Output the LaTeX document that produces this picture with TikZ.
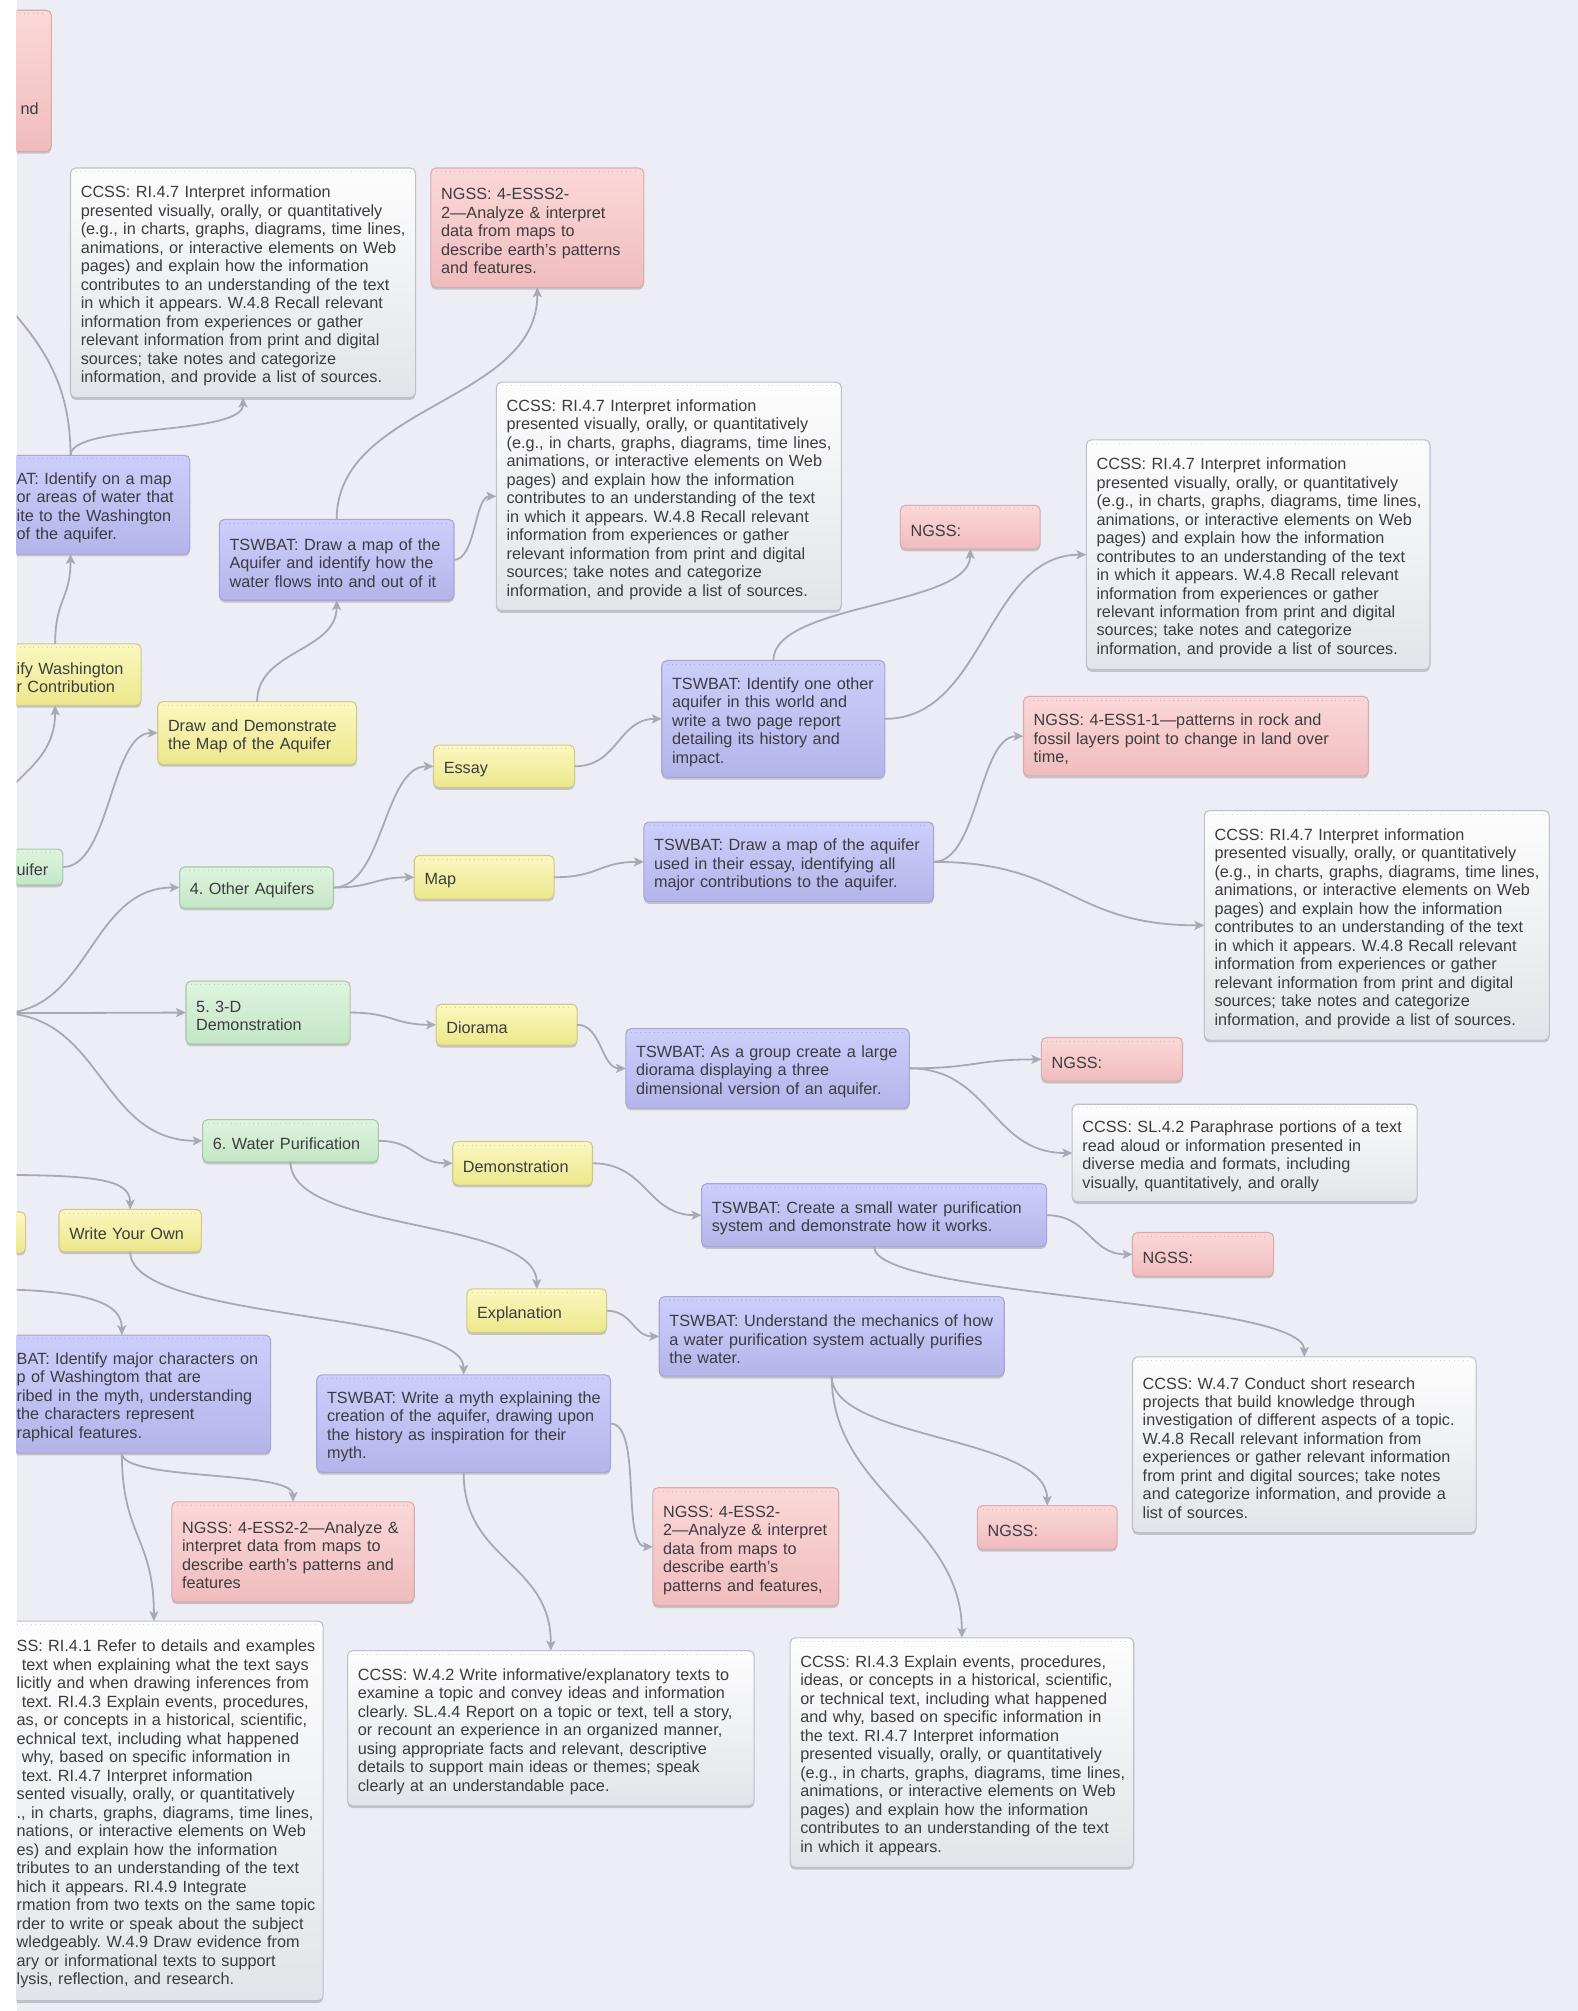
\documentclass[tikz,border=0pt]{standalone}
\usepackage{fontspec}
\setmainfont{Liberation Sans}
\usetikzlibrary{arrows.meta,shadows}

\definecolor{mapbg}{RGB}{237,237,245}
\definecolor{wire}{RGB}{166,170,182}
\definecolor{ink}{RGB}{60,60,64}
\definecolor{ccsstop}{RGB}{253,253,253}
\definecolor{ccssbot}{RGB}{226,228,233}
\definecolor{ccssline}{RGB}{188,192,202}
\definecolor{ngsstop}{RGB}{251,216,216}
\definecolor{ngssbot}{RGB}{240,188,190}
\definecolor{ngssline}{RGB}{214,172,176}
\definecolor{goaltop}{RGB}{206,206,252}
\definecolor{goalbot}{RGB}{180,180,234}
\definecolor{goalline}{RGB}{166,166,214}
\definecolor{tasktop}{RGB}{250,248,192}
\definecolor{taskbot}{RGB}{236,231,140}
\definecolor{taskline}{RGB}{206,202,140}
\definecolor{topictop}{RGB}{222,244,222}
\definecolor{topicbot}{RGB}{196,230,198}
\definecolor{topicline}{RGB}{166,198,170}

\newcommand{\riseven}{CCSS: RI.4.7 Interpret information\\
presented visually, orally, or quantitatively\\
(e.g., in charts, graphs, diagrams, time lines,\\
animations, or interactive elements on Web\\
pages) and explain how the information\\
contributes to an understanding of the text\\
in which it appears. W.4.8 Recall relevant\\
information from experiences or gather\\
relevant information from print and digital\\
sources; take notes and categorize\\
information, and provide a list of sources.}

\begin{document}
\begin{tikzpicture}[x=0.025cm,y=-0.025cm,
block/.style={draw=#1,rounded corners=2.8pt,line width=0.6pt,inner xsep=0.2cm,inner ysep=0pt,outer sep=0pt,
  align=left,text=ink,font=\fontsize{9pt}{10.25pt}\selectfont\frenchspacing,
  drop shadow={shadow xshift=0pt,shadow yshift=-1.3pt,opacity=0.18,fill=black},
  path picture={\draw[black,opacity=0.15,line width=0.5pt,dotted] ([xshift=3pt,yshift=-2pt]path picture bounding box.north west) -- ([xshift=-3pt,yshift=-2pt]path picture bounding box.north east);},
  execute at begin node={\rightskip=-2cm plus 1fil\relax\rule{0pt}{10pt}}},
dims/.style 2 args={anchor=north west,minimum width=#1*0.025cm,minimum height=#2*0.025cm,text width=#1*0.025cm-0.4cm},
clipleft/.style={execute at begin node={\leftskip=#1\relax}},
ccssblock/.style={block=ccssline,top color=ccsstop,bottom color=ccssbot},
ngssblock/.style={block=ngssline,top color=ngsstop,bottom color=ngssbot},
goalblock/.style={block=goalline,top color=goaltop,bottom color=goalbot},
taskblock/.style={block=taskline,top color=tasktop,bottom color=taskbot},
topicblock/.style={block=topicline,top color=topictop,bottom color=topicbot},
link/.style={draw=wire,line width=1pt,-{Stealth[length=5.5pt,width=5pt,inset=1.3pt]}}]
\useasboundingbox (0,0) rectangle (1230,1568);
\fill[white] (0,0) rectangle (1230,1568);
\fill[mapbg] (13,0) rectangle (1230,1568);
\begin{scope}
\clip (13,0) rectangle (1230,1568);
\coordinate (root) at (0,790);
\coordinate (mythA) at (-20,916);
\coordinate (mythB) at (-20,1005);

\draw (-130,8) node[ngssblock,dims={170}{110},clipleft=3.45cm,text height=1.33cm,text depth=0pt] (ng0) {nd};
\draw (55,131) node[ccssblock,dims={269}{179}] (cc1) {\riseven};
\draw (336,131) node[ngssblock,dims={166}{93}] (ng1) {NGSS: 4-ESSS2-\\2—Analyze \& interpret\\data from maps to\\describe earth's patterns\\and features.};
\draw (387,298) node[ccssblock,dims={269}{178}] (cc2) {\riseven};
\draw (-38,355) node[goalblock,dims={186}{77},clipleft=1.075cm] (ts1) {AT: Identify on a map\\or areas of water that\\ite to the Washington\\of the aquifer.};
\draw (171,405) node[goalblock,dims={183}{63}] (ts2) {TSWBAT: Draw a map of the\\Aquifer and identify how the\\water flows into and out of it};
\draw (702,394) node[ngssblock,dims={109}{34}] (ng2) {NGSS:};
\draw (847,343) node[ccssblock,dims={268}{179}] (cc3) {\riseven};
\draw (-24,502) node[taskblock,dims={134}{48},clipleft=0.725cm] (tk1) {ify Washington\\r Contribution};
\draw (123,547) node[taskblock,dims={155}{49}] (tk2) {Draw and Demonstrate\\the Map of the Aquifer};
\draw (516,515) node[goalblock,dims={174}{91}] (ts3) {TSWBAT: Identify one other\\aquifer in this world and\\write a two page report\\detailing its history and\\impact.};
\draw (798,543) node[ngssblock,dims={269}{62}] (ng3) {NGSS: 4-ESS1-1—patterns in rock and\\fossil layers point to change in land over\\time,};
\draw (338,581) node[taskblock,dims={110}{33}] (essay) {Essay};
\draw (-71,662) node[topicblock,dims={120}{28},clipleft=1.9cm] (tp3) {uifer};
\draw (140,676) node[topicblock,dims={120}{32}] (tp4) {4. Other Aquifers};
\draw (323,667) node[taskblock,dims={109}{34}] (map) {Map};
\draw (502,641) node[goalblock,dims={226}{62}] (ts4) {TSWBAT: Draw a map of the aquifer\\used in their essay, identifying all\\major contributions to the aquifer.};
\draw (939,632) node[ccssblock,dims={269}{179}] (cc4) {\riseven};
\draw (145,765) node[topicblock,dims={128}{49}] (tp5) {5. 3-D\\Demonstration};
\draw (340,783) node[taskblock,dims={110}{32}] (diorama) {Diorama};
\draw (488,802) node[goalblock,dims={221}{62}] (ts5) {TSWBAT: As a group create a large\\diorama displaying a three\\dimensional version of an aquifer.};
\draw (812,809) node[ngssblock,dims={110}{34}] (ng5) {NGSS:};
\draw (836,861) node[ccssblock,dims={269}{76}] (cc5) {CCSS: SL.4.2 Paraphrase portions of a text\\read aloud or information presented in\\diverse media and formats, including\\visually, quantitatively, and orally};
\draw (158,873) node[topicblock,dims={137}{33}] (tp6) {6. Water Purification};
\draw (353,890) node[taskblock,dims={109}{34}] (demo) {Demonstration};
\draw (547,923) node[goalblock,dims={269}{49}] (ts6) {TSWBAT: Create a small water purification\\system and demonstrate how it works.};
\draw (883,961) node[ngssblock,dims={110}{34}] (ng6) {NGSS:};
\draw (-90,945) node[taskblock,dims={110}{32}] (tk7) {};
\draw (46,943) node[taskblock,dims={111}{33}] (own) {Write Your Own};
\draw (364,1005) node[taskblock,dims={109}{34}] (explain) {Explanation};
\draw (514,1011) node[goalblock,dims={269}{62}] (ts9) {TSWBAT: Understand the mechanics of how\\a water purification system actually purifies\\the water.};
\draw (-21,1041) node[goalblock,dims={232}{92},clipleft=0.65cm] (ts7) {BAT: Identify major characters on\\p of Washingtom that are\\ribed in the myth, understanding\\the characters represent\\raphical features.};
\draw (247,1072) node[goalblock,dims={229}{76}] (ts8) {TSWBAT: Write a myth explaining the\\creation of the aquifer, drawing upon\\the history as inspiration for their\\myth.};
\draw (883,1058) node[ccssblock,dims={268}{137}] (cc9) {CCSS: W.4.7 Conduct short research\\projects that build knowledge through\\investigation of different aspects of a topic.\\W.4.8 Recall relevant information from\\experiences or gather relevant information\\from print and digital sources; take notes\\and categorize information, and provide a\\list of sources.};
\draw (762,1174) node[ngssblock,dims={109}{34}] (ng9) {NGSS:};
\draw (134,1171) node[ngssblock,dims={189}{78}] (ng7) {NGSS: 4-ESS2-2—Analyze \&\\interpret data from maps to\\describe earth's patterns and\\features};
\draw (509,1160) node[ngssblock,dims={145}{92}] (ng8) {NGSS: 4-ESS2-\\2—Analyze \& interpret\\data from maps to\\describe earth's\\patterns and features,};
\draw (-12,1264) node[ccssblock,dims={264}{296},clipleft=0.425cm] (cc7) {SS: RI.4.1 Refer to details and examples\\
\hspace*{0.1cm}text when explaining what the text says\\
licitly and when drawing inferences from\\
\hspace*{0.1cm}text. RI.4.3 Explain events, procedures,\\
as, or concepts in a historical, scientific,\\
echnical text, including what happened\\
\hspace*{0.1cm}why, based on specific information in\\
\hspace*{0.1cm}text. RI.4.7 Interpret information\\
sented visually, orally, or quantitatively\\
., in charts, graphs, diagrams, time lines,\\
nations, or interactive elements on Web\\
es) and explain how the information\\
tributes to an understanding of the text\\
hich it appears. RI.4.9 Integrate\\
rmation from two texts on the same topic\\
rder to write or speak about the subject\\
wledgeably. W.4.9 Draw evidence from\\
ary or informational texts to support\\
lysis, reflection, and research.};
\draw (271,1287) node[ccssblock,dims={317}{121}] (cc8) {CCSS: W.4.2 Write informative/explanatory texts to\\examine a topic and convey ideas and information\\clearly. SL.4.4 Report on a topic or text, tell a story,\\or recount an experience in an organized manner,\\using appropriate facts and relevant, descriptive\\details to support main ideas or themes; speak\\clearly at an understandable pace.};
\draw (616,1277) node[ccssblock,dims={268}{179}] (cc10) {CCSS: RI.4.3 Explain events, procedures,\\ideas, or concepts in a historical, scientific,\\or technical text, including what happened\\and why, based on specific information in\\the text. RI.4.7 Interpret information\\presented visually, orally, or quantitatively\\(e.g., in charts, graphs, diagrams, time lines,\\animations, or interactive elements on Web\\pages) and explain how the information\\contributes to an understanding of the text\\in which it appears.};

\draw[link] (ts1.north) .. controls +(0,-118) and +(0,118) .. (ng0.south);
\draw[link] (ts1.north) .. controls +(0,-25) and +(0,30) .. (cc1.south);
\draw[link] (tk1.north) .. controls +(0,-35) and +(0,35) .. (ts1.south);
\draw[link] (tp3.north) .. controls +(0,-56) and +(0,56) .. (tk1.south);
\draw[link] (tp3.east) .. controls +(37,0) and +(-37,0) .. (tk2.west);
\draw[link] (tk2.north) .. controls +(0,-40) and +(0,40) .. (ts2.south);
\draw[link] (ts2.north) .. controls +(0,-90) and +(0,90) .. (ng1.south);
\draw[link] (ts2.east) .. controls +(17,0) and +(-17,0) .. (cc2.west);
\draw[link] (root) .. controls +(70,0) and +(-70,0) .. (tp4.west);
\draw[link] (root) -- (tp5.west);
\draw[link] (root) .. controls +(80,0) and +(-80,0) .. (tp6.west);
\draw[link] (tp4.east) .. controls +(39,0) and +(-39,0) .. (essay.west);
\draw[link] (tp4.east) .. controls +(31,0) and +(-31,0) .. (map.west);
\draw[link] (essay.east) .. controls +(34,0) and +(-34,0) .. (ts3.west);
\draw[link] (ts3.north) .. controls +(0,-45) and +(0,45) .. (ng2.south);
\draw[link] (ts3.east) .. controls +(78,0) and +(-78,0) .. (cc3.west);
\draw[link] (map.east) .. controls +(35,0) and +(-35,0) .. (ts4.west);
\draw[link] (ts4.east) .. controls +(35,0) and +(-35,0) .. (ng3.west);
\draw[link] (ts4.east) .. controls +(105,0) and +(-105,0) .. (cc4.west);
\draw[link] (tp5.east) .. controls +(33,0) and +(-33,0) .. (diorama.west);
\draw[link] (diorama.east) .. controls +(19,0) and +(-19,0) .. (ts5.west);
\draw[link] (ts5.east) .. controls +(51,0) and +(-51,0) .. (ng5.west);
\draw[link] (ts5.east) .. controls +(63,0) and +(-63,0) .. (cc5.west);
\draw[link] (tp6.east) .. controls +(29,0) and +(-29,0) .. (demo.west);
\draw[link] (demo.east) .. controls +(42,0) and +(-42,0) .. (ts6.west);
\draw[link] (ts6.east) .. controls +(33,0) and +(-33,0) .. (ng6.west);
\draw[link] (ts6.south) .. controls +(0,40) and +(0,-45) .. (cc9.north);
\draw[link] (tp6.south) .. controls +(0,55) and +(0,-55) .. (explain.north);
\draw[link] (explain.east) .. controls +(20,0) and +(-20,0) .. (ts9.west);
\draw[link] (ts9.south) .. controls +(0,50) and +(0,-55) .. (ng9.north);
\draw[link] (ts9.south) .. controls +(0,90) and +(0,-90) .. (cc10.north);
\draw[link] (mythA) .. controls +(90,0) and +(0,-25) .. (own.north);
\draw[link] (own.south) .. controls +(0,55) and +(0,-50) .. (ts8.north);
\draw[link] (mythB) .. controls +(90,0) and +(0,-25) .. (ts7.north);
\draw[link] (ts7.south) .. controls +(0,22) and +(0,-25) .. (ng7.north);
\draw[link] (ts7.south) .. controls +(0,65) and +(0,-65) .. (cc7.north);
\draw[link] (ts8.south) .. controls +(0,70) and +(0,-70) .. (cc8.north);
\draw[link] (ts8.east) .. controls +(25,0) and +(-25,0) .. (ng8.west);
\end{scope}
\end{tikzpicture}
\end{document}
